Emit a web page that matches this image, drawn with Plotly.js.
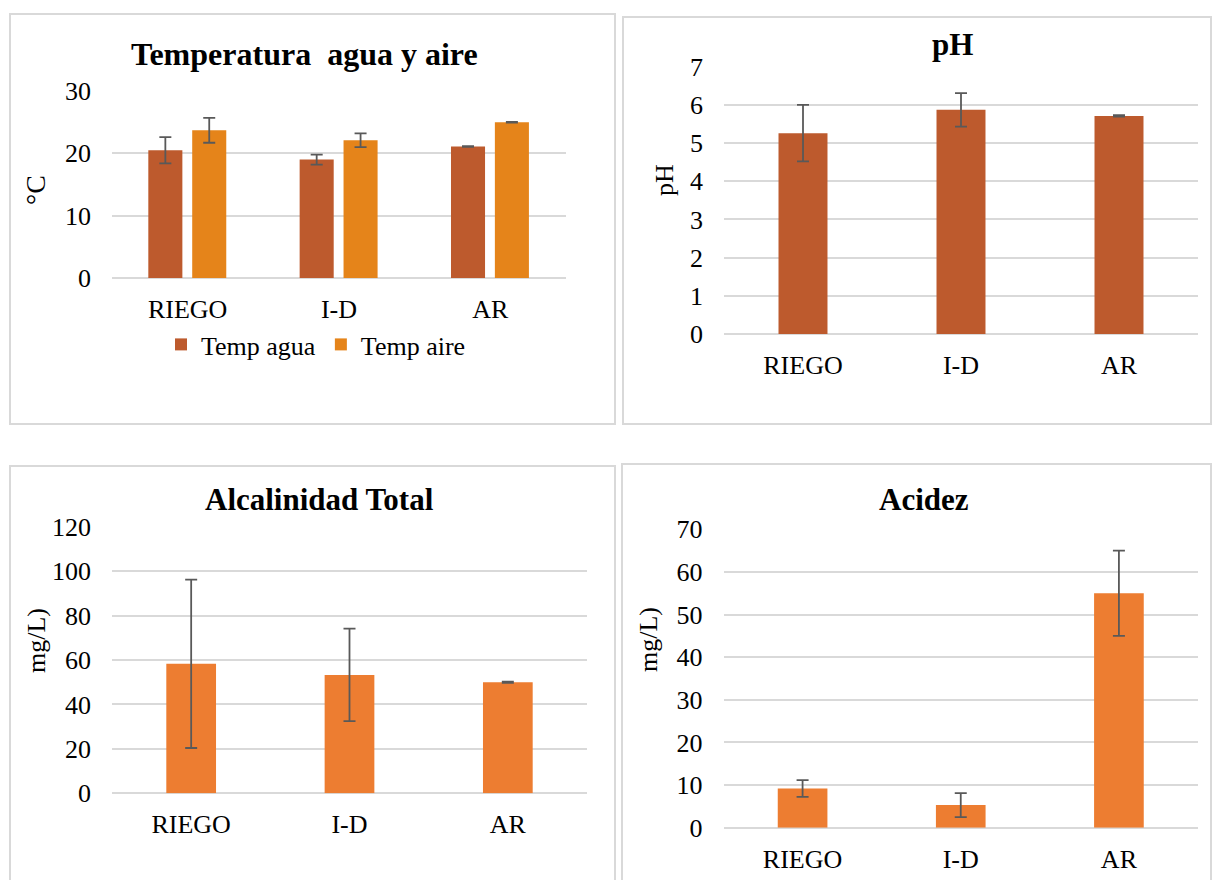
<!DOCTYPE html>
<html>
<head>
<meta charset="utf-8">
<script src="https://cdn.plot.ly/plotly-3.0.1.min.js"></script>
<style>
html,body{margin:0;padding:0;background:#fff;}
#chart{width:1212px;height:880px;}
</style>
</head>
<body>
<div id="chart"></div>
<script>
// ---- data ----
var categories = ['RIEGO', 'I-D', 'AR'];
var tempAgua = [20.5, 19.0, 21.1];
var tempAguaErr = [2.1, 0.8, 0.05];
var tempAire = [23.7, 22.1, 25.0];
var tempAireErr = [2.0, 1.1, 0.05];
var ph = [5.26, 5.87, 5.71];
var phErr = [0.74, 0.44, 0.02];
var alcalinidad = [58.3, 53.3, 50.0];
var alcalinidadErr = [37.9, 20.8, 0.3];
var acidez = [9.2, 5.3, 55.0];
var acidezErr = [1.95, 2.8, 10.0];

var FONT = "'Liberation Serif', 'Times New Roman', serif";
var GRID = '#D9D9D9';
var ERRC = '#595959';
var C_AGUA = '#BD5A2D';
var C_AIRE = '#E5841A';
var C_ORANGE = '#ED7D31';

function err(arr) {
  return {type: 'data', array: arr, visible: true, color: ERRC, thickness: 1.8, width: 6};
}

var traces = [
  {type: 'bar', name: 'Temp agua', x: categories, y: tempAgua, error_y: err(tempAguaErr),
   marker: {color: C_AGUA}, offset: -0.26, width: 0.225, xaxis: 'x', yaxis: 'y', showlegend: true},
  {type: 'bar', name: 'Temp aire', x: categories, y: tempAire, error_y: err(tempAireErr),
   marker: {color: C_AIRE}, offset: 0.03, width: 0.225, xaxis: 'x', yaxis: 'y', showlegend: true},
  {type: 'bar', name: 'pH', x: categories, y: ph, error_y: err(phErr),
   marker: {color: C_AGUA}, width: 0.31, xaxis: 'x2', yaxis: 'y2', showlegend: false},
  {type: 'bar', name: 'Alcalinidad Total', x: categories, y: alcalinidad, error_y: err(alcalinidadErr),
   marker: {color: C_ORANGE}, width: 0.314, xaxis: 'x3', yaxis: 'y3', showlegend: false},
  {type: 'bar', name: 'Acidez', x: categories, y: acidez, error_y: err(acidezErr),
   marker: {color: C_ORANGE}, width: 0.314, xaxis: 'x4', yaxis: 'y4', showlegend: false}
];

var W = 1212, H = 880;
function px(x) { return x / W; }
function py(y) { return (H - y) / H; }

function xax(x0, x1, anchor) {
  return {domain: [px(x0), px(x1)], anchor: anchor, type: 'category',
    showgrid: false, zeroline: false, showline: false, ticks: '',
    ticklabelstandoff: 13, tickfont: {family: FONT, size: 26, color: '#000'}, fixedrange: true};
}
function yax(y0, y1, anchor, range, dtick) {
  return {domain: [py(y0), py(y1)], anchor: anchor, range: range, dtick: dtick, tick0: 0,
    showgrid: true, gridcolor: GRID, gridwidth: 2, zeroline: true, zerolinecolor: GRID, zerolinewidth: 2,
    showline: false, ticks: '', ticklabelstandoff: 20,
    tickfont: {family: FONT, size: 26, color: '#000'}, fixedrange: true};
}

function ann(text, x, y, size, bold, angle) {
  return {text: bold ? '<b>' + text + '</b>' : text, xref: 'paper', yref: 'paper',
    x: px(x), y: py(y), xanchor: 'center', yanchor: 'middle', showarrow: false,
    textangle: angle || 0, font: {family: FONT, size: size, color: '#000'}};
}

function box(x0, y0, x1, y1) {
  return {type: 'rect', xref: 'paper', yref: 'paper', x0: px(x0), x1: px(x1), y0: py(y1), y1: py(y0),
    line: {color: GRID, width: 2}, fillcolor: 'rgba(0,0,0,0)', layer: 'below'};
}

var layout = {
  width: W, height: H,
  margin: {l: 0, r: 0, t: 0, b: 0},
  paper_bgcolor: '#fff', plot_bgcolor: 'rgba(0,0,0,0)',
  barmode: 'group',
  font: {family: FONT, color: '#000'},
  xaxis: xax(112, 566, 'y'),
  yaxis: yax(278, 91, 'x', [0, 30], 10),
  xaxis2: xax(724, 1198, 'y2'),
  yaxis2: yax(334, 66.7, 'x2', [0, 7], 1),
  xaxis3: xax(112, 587, 'y3'),
  yaxis3: yax(793.3, 526.7, 'x3', [0, 120], 20),
  xaxis4: xax(723.5, 1198, 'y4'),
  yaxis4: yax(827.7, 529.3, 'x4', [0, 70], 10),
  showlegend: true,
  legend: {orientation: 'h', x: px(161), y: py(321), xanchor: 'left', yanchor: 'top',
    font: {family: FONT, size: 26, color: '#000'}, bgcolor: 'rgba(0,0,0,0)', itemwidth: 30},
  annotations: [
    ann('Temperatura  agua y aire', 304, 54, 32, true),
    ann('°C', 35, 190, 28, false, -90),
    ann('pH', 952, 44, 31, true),
    ann('pH', 664, 180, 26, false, -90),
    ann('Alcalinidad Total', 319, 500, 31, true),
    ann('mg/L)', 36, 641, 26, false, -90),
    ann('Acidez', 924, 500, 31, true),
    ann('mg/L)', 648, 640, 26, false, -90)
  ],
  shapes: [
    box(10, 14, 615, 424),
    box(623, 17, 1211, 424),
    box(10, 466, 615, 890),
    box(622, 464, 1211, 890)
  ]
};

Plotly.newPlot('chart', traces, layout, {displayModeBar: false, staticPlot: true});
</script>
</body>
</html>
